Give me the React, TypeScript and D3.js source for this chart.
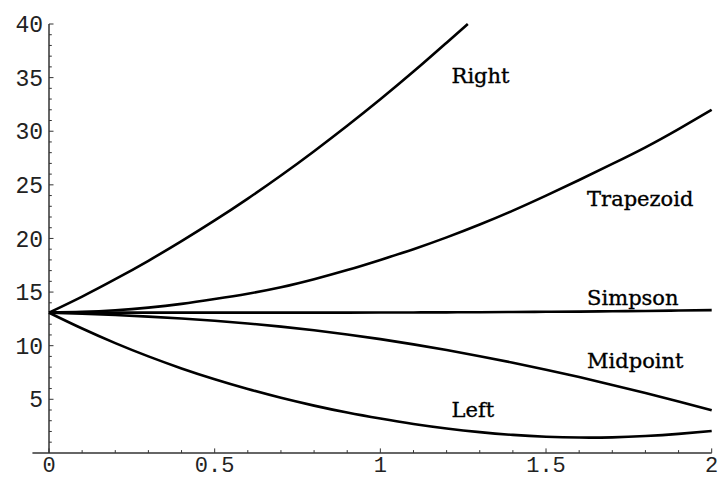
import React from "react";
import * as d3 from "d3";

const xs = [0, 0.1, 0.2, 0.3, 0.4, 0.5, 0.6, 0.7, 0.8, 0.9, 1.0, 1.1, 1.2, 1.3, 1.4, 1.5, 1.6, 1.7, 1.8, 1.9, 2.0];

const rightX = [0, 0.1, 0.2, 0.3, 0.4, 0.5, 0.6, 0.7, 0.8, 0.9, 1.0, 1.1, 1.2, 1.264];
const rightY = [13.08, 14.58, 16.2, 17.92, 19.75, 21.68, 23.72, 25.87, 28.14, 30.51, 32.98, 35.56, 38.26, 40.0];
const trapezoidY = [13.08, 13.15, 13.3, 13.55, 13.9, 14.35, 14.85, 15.45, 16.2, 17.05, 18.0, 19.0, 20.1, 21.3, 22.6, 24.0, 25.45, 26.95, 28.5, 30.2, 32.0];
const simpsonY = [13.08, 13.08, 13.08, 13.08, 13.08, 13.08, 13.08, 13.08, 13.08, 13.08, 13.09, 13.1, 13.11, 13.12, 13.14, 13.16, 13.18, 13.21, 13.24, 13.28, 13.32];
const midpointY = [13.08, 12.98, 12.86, 12.71, 12.53, 12.32, 12.07, 11.78, 11.44, 11.05, 10.61, 10.12, 9.59, 9.02, 8.41, 7.76, 7.07, 6.34, 5.58, 4.79, 3.97];
const leftY = [13.08, 11.6, 10.24, 9.0, 7.88, 6.87, 5.96, 5.14, 4.41, 3.76, 3.2, 2.7, 2.28, 1.94, 1.68, 1.51, 1.43, 1.45, 1.57, 1.77, 2.04];

const labelNames = ["Right", "Trapezoid", "Simpson", "Midpoint", "Left"];
const labelX = [1.215, 1.624, 1.624, 1.624, 1.215];
const labelY = [34.5, 23.0, 13.8, 7.9, 3.35];

const xTicks = [0, 0.5, 1, 1.5, 2];
const xTickLabels = ["0", "0.5", "1", "1.5", "2"];
const yTicks = [5, 10, 15, 20, 25, 30, 35, 40];

export default function App() {
  const W = 720, H = 478;
  const x = d3.scaleLinear().domain([0, 2]).range([49, 711.7]);
  const y = d3.scaleLinear().domain([0, 40]).range([452.9, 24]);
  const line = d3
    .line<[number, number]>()
    .x((d) => x(d[0]))
    .y((d) => y(d[1]))
    .curve(d3.curveNatural);

  const series: [number, number][][] = [
    rightX.map((v, i) => [v, rightY[i]] as [number, number]),
    xs.map((v, i) => [v, trapezoidY[i]] as [number, number]),
    xs.map((v, i) => [v, simpsonY[i]] as [number, number]),
    xs.map((v, i) => [v, midpointY[i]] as [number, number]),
    xs.map((v, i) => [v, leftY[i]] as [number, number]),
  ];

  const xMinor = d3.range(0, 2.0001, 0.1).map((v) => +v.toFixed(2));
  const yMinor = d3.range(1, 40.0001, 1);
  const axisColor = "#333";
  const y0 = y(0);
  const x0 = x(0);

  return (
    <svg
      width={W}
      height={H}
      style={{ position: "absolute", left: 0, top: 0, background: "#fff" }}
    >
      <line x1={x(-0.05)} x2={x(2)} y1={y0} y2={y0} stroke={axisColor} strokeWidth={1.5} />
      <line x1={x0} x2={x0} y1={y(0)} y2={y(40)} stroke={axisColor} strokeWidth={1.5} />
      {xMinor.map((t) => {
        const major = Math.abs(t * 2 - Math.round(t * 2)) < 1e-6;
        return (
          <line key={"xm" + t} x1={x(t)} x2={x(t)} y1={y0} y2={y0 - (major ? 4.5 : 2.8)} stroke={axisColor} strokeWidth={1} />
        );
      })}
      {yMinor.map((t) => {
        const major = t % 5 === 0;
        return (
          <line key={"ym" + t} x1={x0} x2={x0 + (major ? 4.5 : 2.8)} y1={y(t)} y2={y(t)} stroke={axisColor} strokeWidth={1} />
        );
      })}
      {xTicks.map((t, i) => (
        <text key={"xt" + t} x={x(t)} y={471.5} textAnchor="middle" fontFamily="'Liberation Mono', monospace" fontSize={22} fill="#222">
          {xTickLabels[i]}
        </text>
      ))}
      {yTicks.map((t) => (
        <text key={"yt" + t} x={43} y={y(t)} dy="0.35em" textAnchor="end" fontFamily="'Liberation Mono', monospace" fontSize={23} fill="#222">
          {t}
        </text>
      ))}
      {series.map((s, i) => (
        <path key={"s" + i} d={line(s) || ""} fill="none" stroke="#000" strokeWidth={2.6} strokeLinejoin="round" />
      ))}
      {labelNames.map((n, i) => (
        <text key={n} x={x(labelX[i])} y={y(labelY[i])} fontFamily="'DejaVu Serif', serif" fontSize={21} fill="#000" stroke="#000" strokeWidth={0.35}>
          {n}
        </text>
      ))}
    </svg>
  );
}
